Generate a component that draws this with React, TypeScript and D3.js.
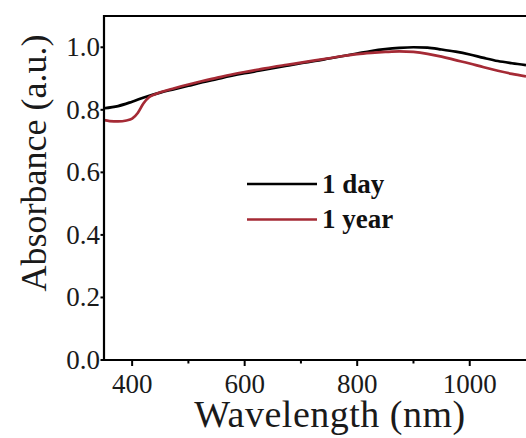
import React from "react";
import * as d3 from "d3";

const wavelengthDay = [350, 375, 400, 425, 450, 475, 500, 525, 550, 575, 600, 625, 650, 675, 700, 725, 750, 775, 800, 825, 850, 875, 900, 925, 950, 975, 1000, 1025, 1050, 1075, 1100];
const absDay = [0.805, 0.812, 0.826, 0.842, 0.855, 0.866, 0.877, 0.888, 0.898, 0.908, 0.917, 0.925, 0.933, 0.941, 0.949, 0.956, 0.964, 0.972, 0.980, 0.988, 0.994, 0.998, 1.0, 0.999, 0.993, 0.986, 0.977, 0.966, 0.956, 0.949, 0.943];

const wavelengthYear = [350, 360, 375, 390, 400, 410, 420, 430, 440, 450, 475, 500, 525, 550, 575, 600, 625, 650, 675, 700, 725, 750, 775, 800, 825, 850, 875, 900, 925, 950, 975, 1000, 1025, 1050, 1075, 1100];
const absYear = [0.767, 0.764, 0.763, 0.766, 0.772, 0.79, 0.82, 0.84, 0.849, 0.856, 0.869, 0.881, 0.892, 0.902, 0.912, 0.921, 0.929, 0.937, 0.944, 0.951, 0.958, 0.965, 0.972, 0.978, 0.982, 0.985, 0.987, 0.985, 0.979, 0.970, 0.959, 0.948, 0.936, 0.925, 0.915, 0.907];

const xTicks = [400, 600, 800, 1000];
const xMinorTicks = [500, 700, 900];
const yTicks = [0.0, 0.2, 0.4, 0.6, 0.8, 1.0];

const seriesNames = ["1 day", "1 year"];
const seriesColors = ["#000000", "#a52a35"];

export default function App() {
  const W = 526, H = 438;
  const left = 104, right = 526, top = 16, bottom = 360;
  const x = d3.scaleLinear().domain([350, 1100]).range([left, right]);
  const y = d3.scaleLinear().domain([0, 1.1]).range([bottom, top]);
  const line = d3.line<[number, number]>().x(d => x(d[0])).y(d => y(d[1])).curve(d3.curveMonotoneX);
  const dayPts = wavelengthDay.map((w, i) => [w, absDay[i]] as [number, number]);
  const yearPts = wavelengthYear.map((w, i) => [w, absYear[i]] as [number, number]);
  const font = "Liberation Serif, Times New Roman, serif";
  const ts = { fontFamily: font };
  return (
    <svg width={W} height={H} style={{ position: "absolute", left: 0, top: 0, background: "#fff", fontFamily: font }}>
      <defs>
        <clipPath id="plot"><rect x={left} y={top} width={right - left} height={bottom - top} /></clipPath>
      </defs>
      <g clipPath="url(#plot)">
        <path d={line(dayPts) || ""} fill="none" stroke={seriesColors[0]} strokeWidth={2.7} />
        <path d={line(yearPts) || ""} fill="none" stroke={seriesColors[1]} strokeWidth={2.7} />
      </g>
      <line x1={left} y1={top} x2={right} y2={top} stroke="#000" strokeWidth={2} />
      <line x1={left} y1={top - 1} x2={left} y2={bottom + 1} stroke="#000" strokeWidth={2.2} />
      <line x1={left - 1} y1={bottom} x2={right} y2={bottom} stroke="#000" strokeWidth={2.2} />
      {xTicks.map(t => (
        <g key={t}>
          <line x1={x(t)} x2={x(t)} y1={bottom} y2={bottom + 6} stroke="#000" strokeWidth={2} />
          <text x={x(t)} y={393} textAnchor="middle" fontSize={27} fill="#1a1a1a" style={ts}>{t}</text>
        </g>
      ))}
      {xMinorTicks.map(t => (
        <line key={t} x1={x(t)} x2={x(t)} y1={bottom} y2={bottom + 3.5} stroke="#000" strokeWidth={2} />
      ))}
      {yTicks.map(t => (
        <g key={t}>
          <line x1={left - 3.5} x2={left} y1={y(t)} y2={y(t)} stroke="#000" strokeWidth={2} />
          <text x={100} y={y(t) + 9} textAnchor="end" fontSize={27} fill="#1a1a1a" style={ts}>{t.toFixed(1)}</text>
        </g>
      ))}
      <text x={330} y={427} textAnchor="middle" fontSize={38} fill="#1a1a1a" style={{ ...ts, letterSpacing: "0.5px" }}>Wavelength (nm)</text>
      <text transform={`translate(46,${163}) rotate(-90)`} textAnchor="middle" fontSize={36} fill="#1a1a1a" style={ts}>Absorbance (a.u.)</text>
      {seriesNames.map((n, i) => (
        <g key={n}>
          <line x1={247} x2={317} y1={184 + i * 35.5} y2={184 + i * 35.5} stroke={seriesColors[i]} strokeWidth={2.7} />
          <text x={322} y={193 + i * 35.3} fontSize={27} fontWeight="bold" fill="#111" style={ts}>{n}</text>
        </g>
      ))}
    </svg>
  );
}
